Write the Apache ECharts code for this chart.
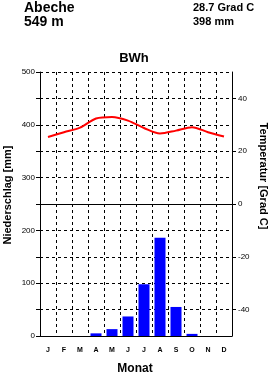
<!DOCTYPE html>
<html>
<head>
<meta charset="utf-8">
<script src="https://cdn.jsdelivr.net/npm/echarts@6/dist/echarts.min.js"></script>
<style>
  html, body { margin: 0; padding: 0; background: #fff; }
  #chart { width: 271px; height: 377px; }
</style>
</head>
<body>
<div id="chart"></div>
<script>
// Klimadiagramm Abeche
var station = 'Abeche';
var hoehe = '549 m';
var mittelTemp = '28.7 Grad C';
var summeNied = '398 mm';
var klima = 'BWh';

var monate = ['J', 'F', 'M', 'A', 'M', 'J', 'J', 'A', 'S', 'O', 'N', 'D'];
var niederschlag = [0, 0, 0, 5, 13, 37, 98, 186, 55, 4, 0, 0];      // mm
var temperatur = [25.4, 27.2, 28.9, 32.4, 33.0, 31.6, 28.8, 26.7, 27.8, 29.1, 27.2, 25.6]; // Grad C

var niedTicks = [0, 100, 200, 300, 400, 500];
var tempTicks = [-40, -20, 0, 20, 40];

var font = '"Liberation Sans", Arial, sans-serif';
var myChart = echarts.init(document.getElementById('chart'));

var option = {
    animation: false,
    backgroundColor: '#fff',
    grid: { left: 40, right: 39, top: 72, bottom: 41 },
    graphic: [
        { type: 'text', left: 24, top: 1, style: { text: station, font: 'bold 14px ' + font, fill: '#000' } },
        { type: 'text', left: 24, top: 15, style: { text: hoehe, font: 'bold 14px ' + font, fill: '#000' } },
        { type: 'text', left: 193, top: 2, style: { text: mittelTemp, font: 'bold 11px ' + font, fill: '#000' } },
        { type: 'text', left: 193, top: 16, style: { text: summeNied, font: 'bold 11px ' + font, fill: '#000' } },
        { type: 'text', x: 134, y: 58, style: { text: klima, font: 'bold 13px ' + font, fill: '#000', align: 'center', verticalAlign: 'middle' } },
        { type: 'text', x: 135, y: 369, style: { text: 'Monat', font: 'bold 12px ' + font, fill: '#000', align: 'center', verticalAlign: 'middle' } },
        { type: 'text', x: 8, y: 195, rotation: Math.PI / 2, style: { text: 'Niederschlag [mm]', font: 'bold 11px ' + font, fill: '#000', align: 'center', verticalAlign: 'middle' } },
        { type: 'text', x: 263, y: 176, rotation: -Math.PI / 2, style: { text: 'Temperatur [Grad C]', font: 'bold 11px ' + font, fill: '#000', align: 'center', verticalAlign: 'middle' } }
    ],
    xAxis: {
        type: 'category',
        data: monate,
        boundaryGap: true,
        axisLine: { lineStyle: { color: '#000', width: 1 } },
        axisTick: { show: false },
        axisLabel: { color: '#000', fontSize: 7, fontWeight: 'bold', fontFamily: font, margin: 11 },
        splitLine: { show: true, lineStyle: { color: '#000', type: [3, 3], width: 1 } }
    },
    yAxis: [{
        type: 'value',
        min: 0,
        max: 500,
        interval: 50,
        position: 'left',
        axisLine: { show: true, lineStyle: { color: '#000' } },
        axisTick: { show: true, length: 4, lineStyle: { color: '#000' } },
        axisLabel: {
            color: '#000', fontSize: 8, fontFamily: font, margin: 5,
            customValues: niedTicks
        },
        splitLine: { show: true, lineStyle: { color: '#000', type: [3, 3], width: 1 } }
    }, {
        type: 'value',
        min: -50,
        max: 50,
        interval: 10,
        position: 'right',
        axisLine: { show: true, lineStyle: { color: '#000' } },
        axisTick: { show: true, length: 4, lineStyle: { color: '#000' }, customValues: tempTicks },
        axisLabel: {
            color: '#000', fontSize: 8, fontFamily: font, margin: 6,
            customValues: tempTicks
        },
        splitLine: { show: false }
    }],
    series: [{
        name: 'Niederschlag',
        type: 'bar',
        data: niederschlag,
        barWidth: 11,
        itemStyle: { color: '#0000ff' }
    }, {
        name: 'Temperatur',
        type: 'line',
        yAxisIndex: 1,
        data: temperatur,
        smooth: 0.3,
        showSymbol: false,
        lineStyle: { color: '#ff0000', width: 2 },
        z: 5,
        markLine: {
            silent: true,
            symbol: 'none',
            label: { show: false },
            lineStyle: { color: '#000', type: 'solid', width: 1 },
            data: [{ yAxis: 0 }]
        }
    }]
};
myChart.setOption(option);
</script>
</body>
</html>
